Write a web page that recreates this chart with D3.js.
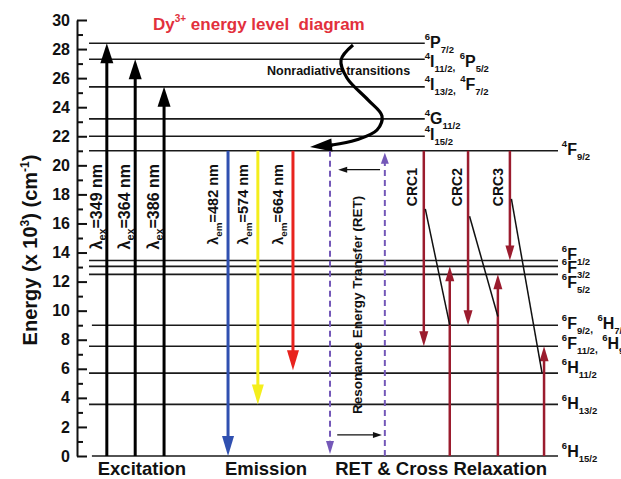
<!DOCTYPE html>
<html>
<head>
<meta charset="utf-8">
<script src="https://cdn.jsdelivr.net/npm/d3@7"></script>
<style>
  html, body { margin: 0; padding: 0; background: #fff; }
  svg { display: block; font-family: "Liberation Sans", Arial, Helvetica, sans-serif; font-weight: bold; }
</style>
</head>
<body>
<svg id="chart" width="621" height="479"></svg>
<script>
// ---- Dy3+ energy levels (x 10^3 cm^-1) ----
const levelEnergy = [28.4, 27.3, 25.4, 23.2, 22.0, 21.0, 13.45, 13.05, 12.5, 9.0, 7.55, 5.7, 3.55, 0];
// each term: [multiplicity, letter, J]
const levelTerms = [
  [["6", "P", "7/2"]],
  [["4", "I", "11/2"], ["6", "P", "5/2"]],
  [["4", "I", "13/2"], ["4", "F", "7/2"]],
  [["4", "G", "11/2"]],
  [["4", "I", "15/2"]],
  [["4", "F", "9/2"]],
  [["6", "F", "1/2"]],
  [["6", "F", "3/2"]],
  [["6", "F", "5/2"]],
  [["6", "F", "9/2"], ["6", "H", "7/2"]],
  [["6", "F", "11/2"], ["6", "H", "9/2"]],
  [["6", "H", "11/2"]],
  [["6", "H", "13/2"]],
  [["6", "H", "15/2"]]
];

// Excitation (ground -> upper levels)
const exWavelength = [349, 364, 386];
const exTop = [28.4, 27.3, 25.4];

// Emission from 4F9/2
const emWavelength = [482, 574, 664];
const emFrom = 21.0;
const emTo = [0, 3.55, 5.9];
const emColor = ["#3050b0", "#f4ee1c", "#e8231e"];

// Resonance energy transfer
const retTop = 21.0;
const retBottom = 0;
const retSmallArrow = [19.7, 1.45];

// Cross relaxation channels
const crcNames = ["CRC1", "CRC2", "CRC3"];
const crcFrom = 21.0;
const crcDownTo = [7.55, 9.0, 13.45];
const crcUpTo = [13.05, 12.5, 7.55];
const crcLinkStart = [17.0, 16.5, 17.7];
const crcLinkEnd = [9.0, 9.6, 5.7];

const majorTicks = d3.range(0, 31, 2);
const minorTicks = d3.range(1, 30, 2);

// ---- layout (horizontal positions in diagram units 0..100) ----
const col = {
  ex: [6.2, 12.1, 18.1],
  em: [31.4, 37.6, 44.9],
  ret: [52.6, 64.0],
  crcDown: [72.1, 81.3, 90.0],
  crcUp: [77.5, 87.5, 97.1],
  crcLabel: [69.6, 79.0, 87.5],
  levelStart: 2.5,
  levelShortEnd: 72.3,
  levelEnd: 100,
  labelShort: 72.3,
  labelLong: 100.8
};
// vertical nudges of the level labels (px)
const labelDy = [5, 8, 3, 5, 4, 4, -1, 7, 14, 4, 3, 0, 5, 1];

const svg = d3.select("#chart");
const y = d3.scaleLinear().domain([0, 30]).range([456, 20]);
const x = d3.scaleLinear().domain([0, 100]).range([77, 558]);

// ---- axis ----
const axisG = svg.append("g").attr("transform", `translate(${x(0)},0)`);
axisG.call(d3.axisLeft(y).tickValues(majorTicks).tickSizeInner(-10).tickSizeOuter(0)
  .tickPadding(7).tickFormat(d3.format("d")));
axisG.select(".domain").attr("stroke", "#111").attr("stroke-width", 2);
axisG.selectAll(".tick line").attr("stroke", "#111").attr("stroke-width", 2);
axisG.selectAll(".tick text").attr("font-size", 16).attr("font-weight", "bold")
  .attr("font-family", "Liberation Sans, Arial, sans-serif").attr("fill", "#111");

const minorG = svg.append("g").attr("transform", `translate(${x(0)},0)`);
minorG.call(d3.axisLeft(y).tickValues(minorTicks).tickSize(-6).tickFormat(""));
minorG.select(".domain").remove();
minorG.selectAll(".tick line").attr("stroke", "#111").attr("stroke-width", 2);

// y label
const yl = svg.append("text")
  .attr("transform", `translate(37,${250}) rotate(-90)`)
  .attr("text-anchor", "middle").attr("font-size", 20).attr("fill", "#111");
yl.append("tspan").text("Energy (x 10");
yl.append("tspan").attr("font-size", 12).attr("dy", -8).text("3");
yl.append("tspan").attr("dy", 8).text(") (cm");
yl.append("tspan").attr("font-size", 12).attr("dy", -8).text("-1");
yl.append("tspan").attr("dy", 8).text(")");

// title
const title = svg.append("text").attr("x", 153).attr("y", 30)
  .attr("fill", "#e2303c").attr("font-size", 17).style("white-space", "pre");
title.append("tspan").text("Dy");
title.append("tspan").attr("font-size", 10).attr("dy", -8).text("3+");
title.append("tspan").attr("dy", 8).text(" energy level  diagram");

// ---- energy level lines ----
const levelG = svg.append("g");
levelEnergy.forEach((e, i) => {
  const short = i < 5;
  const start = (e === 9.0 || e === 0) ? col.levelStart + 0.6 : col.levelStart;
  levelG.append("line")
    .attr("x1", x(start)).attr("x2", x(short ? col.levelShortEnd : col.levelEnd))
    .attr("y1", y(e)).attr("y2", y(e))
    .attr("stroke", "#1a1a1a").attr("stroke-width", 1.6);
});

// level labels
levelEnergy.forEach((e, i) => {
  const lx = x(i < 5 ? col.labelShort : col.labelLong);
  const base = y(e) + labelDy[i];
  const t = svg.append("text").attr("x", lx).attr("y", base).attr("fill", "#111");
  levelTerms[i].forEach((term, k) => {
    if (k > 0) {
      t.append("tspan").attr("y", base + 4).attr("font-size", 10).text(",");
      t.append("tspan").attr("y", base).attr("font-size", 16).text(" ");
    }
    t.append("tspan").attr("y", base - 8).attr("font-size", 9.5).text(term[0]);
    t.append("tspan").attr("y", base).attr("font-size", 16).text(term[1]);
    t.append("tspan").attr("y", base + 5).attr("font-size", 9.5).text(term[2]);
  });
});

// ---- arrow helper ----
function arrow(g, x1, y1, x2, y2, o) {
  const dx = x2 - x1, dy = y2 - y1, L = Math.hypot(dx, dy);
  const ux = dx / L, uy = dy / L;
  const bx = x2 - ux * o.headLen, by = y2 - uy * o.headLen;
  const ln = g.append("line").attr("x1", x1).attr("y1", y1)
    .attr("x2", bx + ux * 2).attr("y2", by + uy * 2)
    .attr("stroke", o.color).attr("stroke-width", o.width);
  if (o.dash) ln.attr("stroke-dasharray", o.dash);
  const hw = o.headW / 2;
  g.append("polygon")
    .attr("points", [[x2, y2], [bx - uy * hw, by + ux * hw], [bx + uy * hw, by - ux * hw]].map(p => p.join(",")).join(" "))
    .attr("fill", o.color);
}

const arrowsG = svg.append("g");

// excitation
exWavelength.forEach((w, i) => {
  arrow(arrowsG, x(col.ex[i]), y(0), x(col.ex[i]), y(exTop[i]),
    { color: "#000", width: 3, headLen: 20, headW: 13 });
});

// emission
emWavelength.forEach((w, i) => {
  arrow(arrowsG, x(col.em[i]), y(emFrom), x(col.em[i]), y(emTo[i]),
    { color: emColor[i], width: 3, headLen: 20, headW: 12 });
});

// wavelength labels
function lambdaLabel(cx, sub, value, size) {
  const t = svg.append("text")
    .attr("transform", `translate(${cx},164) rotate(-90)`)
    .attr("text-anchor", "end").attr("font-size", size).attr("fill", "#111");
  t.append("tspan").text("λ");
  t.append("tspan").attr("font-size", size * 0.68).attr("dy", 4).text(sub);
  t.append("tspan").attr("dy", -4).text(`=${value} nm`);
}
exWavelength.forEach((w, i) => lambdaLabel(x(col.ex[i]) - 5, "ex", w, 16));
emWavelength.forEach((w, i) => lambdaLabel(x(col.em[i]) - 10, "em", w, 14.5));

// RET dashed transfer lines
arrow(arrowsG, x(col.ret[0]), y(retTop), x(col.ret[0]), y(retBottom) - 2,
  { color: "#7458b8", width: 2, headLen: 13, headW: 8, dash: "6,4" });
arrow(arrowsG, x(col.ret[1]), y(retBottom), x(col.ret[1]), y(retTop) + 2,
  { color: "#7458b8", width: 2, headLen: 11, headW: 8, dash: "6,4" });
arrow(arrowsG, x(63.0), y(retSmallArrow[0]), x(54.3), y(retSmallArrow[0]),
  { color: "#111", width: 1.3, headLen: 9, headW: 6 });
arrow(arrowsG, x(54.1), y(retSmallArrow[1]), x(63.4), y(retSmallArrow[1]),
  { color: "#111", width: 1.3, headLen: 9, headW: 6 });

svg.append("text")
  .attr("transform", `translate(${x((col.ret[0] + col.ret[1]) / 2) + 5},${y(10.4)}) rotate(-90)`)
  .attr("text-anchor", "middle").attr("font-size", 13.5).attr("fill", "#111")
  .text("Resonance Energy Transfer (RET)");

// cross relaxation
const crcColor = "#9b1c2e";
crcNames.forEach((n, i) => {
  arrow(arrowsG, x(col.crcDown[i]), y(crcFrom), x(col.crcDown[i]), y(crcDownTo[i]),
    { color: crcColor, width: 2.5, headLen: 15, headW: 9 });
  arrow(arrowsG, x(col.crcUp[i]), y(0), x(col.crcUp[i]), y(crcUpTo[i]),
    { color: crcColor, width: 2.5, headLen: 15, headW: 9 });
  arrowsG.append("line")
    .attr("x1", x(col.crcDown[i]) + 1.5).attr("y1", y(crcLinkStart[i]))
    .attr("x2", x(col.crcUp[i]) - (i === 2 ? 2 : 0)).attr("y2", y(crcLinkEnd[i]))
    .attr("stroke", "#111").attr("stroke-width", 1.5);
  svg.append("text")
    .attr("transform", `translate(${x(col.crcLabel[i]) + 5},${y(18.5)}) rotate(-90)`)
    .attr("text-anchor", "middle").attr("font-size", 14).attr("fill", "#111").text(n);
});

// nonradiative relaxation: text, then the wavy arrow on top
svg.append("text").attr("x", 267).attr("y", 75).attr("font-size", 12.5).attr("fill", "#111")
  .text("Nonradiative transitions");

const wave = [[57.38, 28.28], [54.89, 27.25], [56.13, 26.01], [60.5, 24.5], [63.41, 23.39],
              [62.37, 22.43], [58.0, 21.74], [53.01, 21.4]];
const waveTip = [48.44, 21.26];
svg.append("path")
  .attr("d", d3.line().x(d => x(d[0])).y(d => y(d[1])).curve(d3.curveCatmullRom.alpha(0.5))(wave))
  .attr("fill", "none").attr("stroke", "#000").attr("stroke-width", 3.2);
arrow(svg, x(wave[wave.length - 1][0]) + 1, y(wave[wave.length - 1][1]), x(waveTip[0]), y(waveTip[1]),
  { color: "#000", width: 3.2, headLen: 22, headW: 13 });

// group captions
const caps = [["Excitation", 13.5], ["Emission", 39.3], ["RET & Cross Relaxation", 75.7]];
caps.forEach(c => {
  svg.append("text").attr("x", x(c[1])).attr("y", y(0) + 19).attr("text-anchor", "middle")
    .attr("font-size", 18.5).attr("fill", "#111").text(c[0]);
});
</script>
</body>
</html>
